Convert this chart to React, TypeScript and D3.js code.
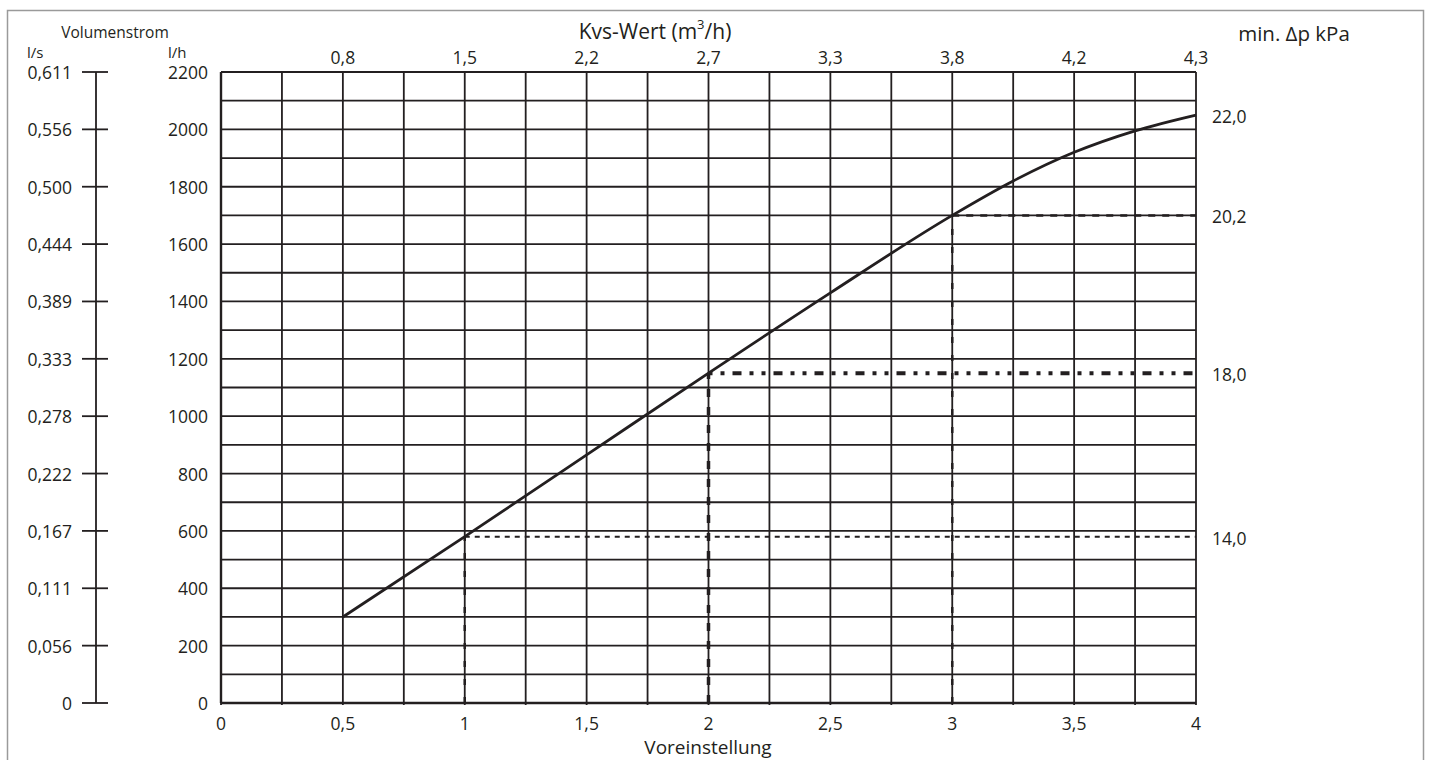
import React from "react";
import * as d3 from "d3";

// Data
const presetValues = [0.5, 1, 1.5, 2, 2.5, 3, 3.25, 3.5, 3.75, 4];
const flowValues = [300, 580, 865, 1150, 1430, 1700, 1820, 1920, 1995, 2050];

const xTicks = [0, 0.5, 1, 1.5, 2, 2.5, 3, 3.5, 4];
const xTickLabels = ["0", "0,5", "1", "1,5", "2", "2,5", "3", "3,5", "4"];
const kvsTicks = [0.5, 1, 1.5, 2, 2.5, 3, 3.5, 4];
const kvsLabels = ["0,8", "1,5", "2,2", "2,7", "3,3", "3,8", "4,2", "4,3"];
const lhTicks = [0, 200, 400, 600, 800, 1000, 1200, 1400, 1600, 1800, 2000, 2200];
const lsLabels = ["0", "0,056", "0,111", "0,167", "0,222", "0,278", "0,333", "0,389", "0,444", "0,500", "0,556", "0,611"];

const guidePresets = [1, 2, 3];
const guideFlows = [580, 1150, 1700];
const dpFlows = [580, 1150, 1700, 2050];
const dpLabels = ["14,0", "18,0", "20,2", "22,0"];

const FONT = "'Open Sans', 'DejaVu Sans', sans-serif";
const INK = "#231f20";
const TICK_FS = 17.5;

export default function App() {
  const W = 1431;
  const H = 760;
  const x = d3.scaleLinear().domain([0, 4]).range([221, 1196]);
  const y = d3.scaleLinear().domain([0, 2200]).range([703, 72]);

  const vGrid = d3.range(0, 4.0001, 0.25);
  const hGrid = d3.range(0, 2200.1, 100);

  const line = d3
    .line<number>()
    .x((_, i) => x(presetValues[i]))
    .y((d) => y(d))
    .curve(d3.curveMonotoneX);

  const hStyles = [
    { w: 2, dash: "5,5" },
    { w: 4, dash: "4,8,4,8,9,8" },
    { w: 2.5, dash: "7,7" },
  ];
  const vStyles = [
    { w: 2.5, dash: "6,12" },
    { w: 3.5, dash: "8,10" },
    { w: 2.5, dash: "6,12" },
  ];

  return (
    <svg width={W} height={H} style={{ position: "absolute", left: 0, top: 0, background: "#fff" }}>
      <rect x={7.5} y={10.5} width={1416} height={760} fill="#fff" stroke="#9a9a9a" strokeWidth={1.5} />

      {/* grid */}
      <g stroke={INK} strokeWidth={1.8}>
        {vGrid.map((v) => (
          <line key={"v" + v} x1={x(v)} x2={x(v)} y1={y(2200)} y2={y(0) + 2} />
        ))}
        {hGrid.map((v) => (
          <line key={"h" + v} x1={x(0)} x2={x(4)} y1={y(v)} y2={y(v)} />
        ))}
      </g>
      <line x1={x(0)} x2={x(0)} y1={y(2200)} y2={y(0)} stroke={INK} strokeWidth={2.4} />
      <line x1={x(0)} x2={x(4)} y1={y(0)} y2={y(0)} stroke={INK} strokeWidth={2.4} />

      {/* guides */}
      {guidePresets.map((p, i) => (
        <g key={"g" + i} stroke={INK} fill="none">
          <line
            x1={x(p)}
            x2={x(p)}
            y1={y(0)}
            y2={y(guideFlows[i])}
            strokeWidth={vStyles[i].w}
            strokeDasharray={vStyles[i].dash}
          />
          <line
            x1={x(p)}
            x2={x(4)}
            y1={y(guideFlows[i])}
            y2={y(guideFlows[i])}
            strokeWidth={hStyles[i].w}
            strokeDasharray={hStyles[i].dash}
          />
        </g>
      ))}

      {/* curve */}
      <path d={line(flowValues) || ""} fill="none" stroke={INK} strokeWidth={2.8} />

      {/* left l/s axis */}
      <line x1={96} x2={96} y1={y(2200)} y2={y(0)} stroke={INK} strokeWidth={1.8} />
      {lhTicks.map((v, i) => (
        <g key={"ls" + i}>
          <line x1={82} x2={108} y1={y(v)} y2={y(v)} stroke={INK} strokeWidth={1.8} />
          <text x={72} y={y(v)} textAnchor="end" dominantBaseline="central" fontFamily={FONT} fontSize={TICK_FS} fill={INK}>
            {lsLabels[i]}
          </text>
          <text x={208} y={y(v)} textAnchor="end" dominantBaseline="central" fontFamily={FONT} fontSize={TICK_FS} fill={INK}>
            {v}
          </text>
        </g>
      ))}
      <text x={115} y={32} textAnchor="middle" dominantBaseline="central" fontFamily={FONT} fontSize={15.5} fill={INK}>
        Volumenstrom
      </text>
      <text x={27} y={52} dominantBaseline="central" fontFamily={FONT} fontSize={15} fill={INK}>
        l/s
      </text>
      <text x={168} y={52} dominantBaseline="central" fontFamily={FONT} fontSize={15} fill={INK}>
        l/h
      </text>

      {/* top Kvs axis */}
      {kvsTicks.map((v, i) => (
        <text key={"k" + i} x={x(v)} y={57} textAnchor="middle" dominantBaseline="central" fontFamily={FONT} fontSize={TICK_FS} fill={INK}>
          {kvsLabels[i]}
        </text>
      ))}
      <text x={655} y={31} textAnchor="middle" dominantBaseline="central" fontFamily={FONT} fontSize={21} fill={INK}>
        Kvs-Wert (m<tspan dy={-7} fontSize={13}>3</tspan>
        <tspan dy={7}>/h)</tspan>
      </text>

      {/* bottom axis */}
      {xTicks.map((v, i) => (
        <text key={"x" + i} x={x(v)} y={723} textAnchor="middle" dominantBaseline="central" fontFamily={FONT} fontSize={TICK_FS} fill={INK}>
          {xTickLabels[i]}
        </text>
      ))}
      <text x={708} y={747} textAnchor="middle" dominantBaseline="central" fontFamily={FONT} fontSize={19} fill={INK}>
        Voreinstellung
      </text>

      {/* right Δp labels */}
      <text x={1294} y={33} textAnchor="middle" dominantBaseline="central" fontFamily={FONT} fontSize={20.5} fill={INK}>
        min. Δp kPa
      </text>
      {dpFlows.map((v, i) => (
        <text key={"dp" + i} x={1212} y={y(v) + 1} dominantBaseline="central" fontFamily={FONT} fontSize={TICK_FS} fill={INK}>
          {dpLabels[i]}
        </text>
      ))}
    </svg>
  );
}
